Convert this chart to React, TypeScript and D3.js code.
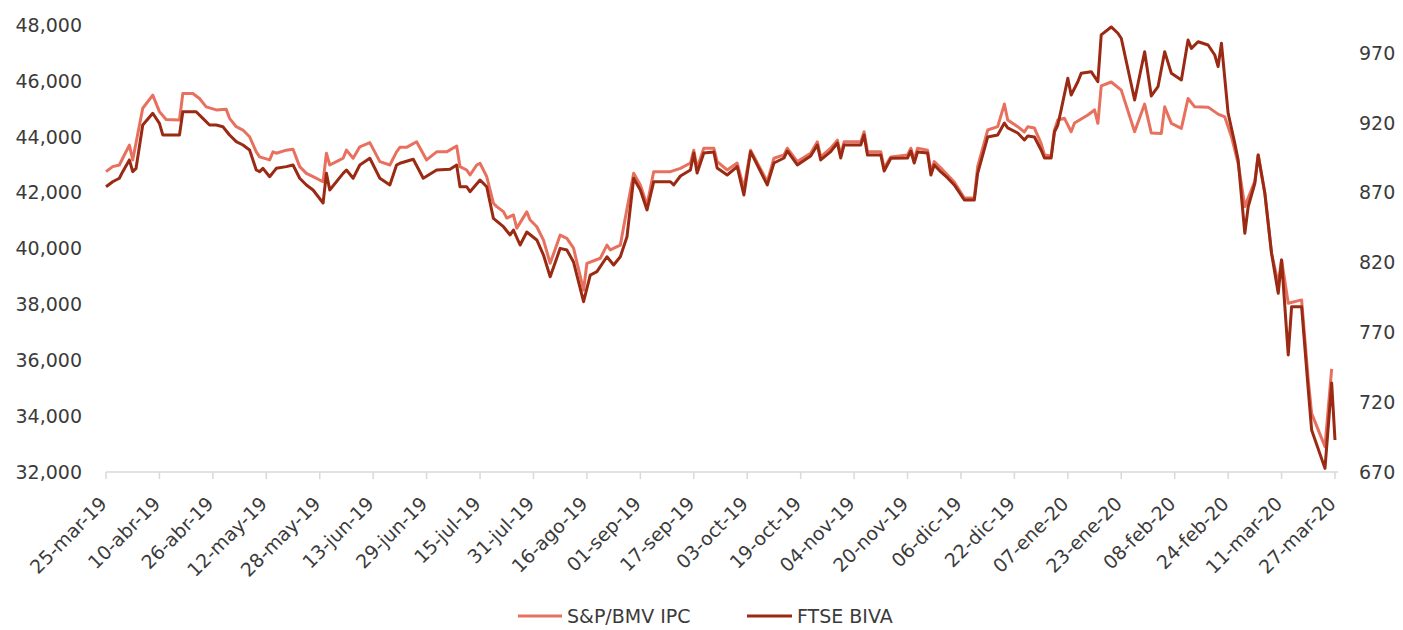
import React from "react";
import * as d3 from "d3";

// fechas: día 0 = 25-mar-19
const startDate = new Date(2019, 2, 25);
const endDate = new Date(2020, 2, 27);

// S&P/BMV IPC (eje izq)
const ipcDays = [0, 2, 4, 5, 7, 8, 11, 14, 16, 18, 22, 23, 26, 28, 30, 33, 36, 37, 39, 41, 43, 45, 46, 49, 50, 51, 54, 56, 58, 60, 62, 65, 66, 67, 69, 71, 72, 74, 76, 79, 82, 85, 87, 88, 90, 93, 96, 99, 102, 105, 106, 108, 109, 111, 112, 114, 116, 117, 119, 120, 122, 123, 126, 127, 129, 131, 133, 136, 138, 140, 143, 144, 148, 150, 151, 154, 155, 158, 160, 162, 164, 169, 172, 175, 176, 177, 179, 182, 183, 186, 189, 191, 193, 198, 200, 203, 204, 207, 211, 213, 214, 217, 219, 220, 221, 226, 227, 228, 232, 233, 235, 240, 241, 242, 243, 246, 247, 248, 250, 252, 254, 257, 260, 261, 264, 267, 269, 270, 273, 275, 276, 278, 280, 281, 283, 284, 285, 287, 289, 290, 294, 296, 297, 298, 301, 304, 308, 311, 313, 316, 317, 319, 322, 324, 326, 330, 333, 335, 337, 339, 341, 344, 345, 347, 349, 351, 352, 354, 358, 360, 361, 365, 367];
const ipcValues = [42750, 42930, 42990, 43230, 43700, 43170, 45020, 45490, 44900, 44620, 44600, 45550, 45550, 45370, 45070, 44960, 44980, 44660, 44360, 44240, 44000, 43460, 43280, 43170, 43460, 43410, 43520, 43550, 42930, 42690, 42570, 42390, 43410, 42990, 43110, 43230, 43520, 43230, 43640, 43790, 43110, 42990, 43460, 43620, 43620, 43820, 43170, 43460, 43460, 43670, 42930, 42810, 42630, 42990, 43050, 42570, 41620, 41500, 41320, 41090, 41200, 40730, 41310, 41020, 40780, 40300, 39470, 40480, 40360, 40010, 38510, 39470, 39650, 40120, 39950, 40120, 40780, 42690, 42270, 41560, 42750, 42750, 42870, 43060, 43520, 42880, 43590, 43590, 43110, 42810, 43060, 42150, 43520, 42390, 43230, 43350, 43590, 43110, 43410, 43820, 43280, 43590, 43880, 43350, 43820, 43820, 44180, 43460, 43460, 42880, 43280, 43350, 43590, 43170, 43590, 43520, 42750, 43110, 42880, 42630, 42380, 41810, 41810, 42930, 44240, 44360, 45170, 44600, 44360, 44170, 44360, 44310, 43760, 43350, 43310, 44240, 44600, 44660, 44180, 44490, 44780, 44960, 44480, 45820, 45960, 45670, 44180, 45170, 44130, 44120, 45070, 44480, 44300, 45370, 45070, 45060, 44810, 44710, 44000, 43050, 41500, 42410, 43350, 41970, 39830, 38750, 39590, 38040, 38160, 35290, 34100, 32910, 35690];

// FTSE BIVA (eje der)
const bivaDays = [0, 2, 4, 5, 7, 8, 9, 11, 14, 16, 17, 22, 23, 27, 29, 31, 33, 35, 37, 39, 41, 43, 45, 46, 47, 49, 51, 54, 56, 58, 60, 62, 65, 66, 67, 71, 72, 74, 76, 79, 82, 85, 87, 88, 92, 95, 99, 103, 105, 106, 108, 109, 112, 114, 116, 119, 121, 122, 124, 126, 129, 131, 133, 136, 138, 140, 143, 145, 147, 150, 152, 154, 156, 158, 160, 162, 164, 169, 170, 172, 175, 176, 177, 179, 182, 183, 186, 189, 191, 193, 198, 200, 203, 204, 207, 211, 213, 214, 217, 219, 220, 221, 226, 227, 228, 232, 233, 235, 240, 241, 242, 243, 246, 247, 248, 250, 252, 254, 257, 260, 261, 264, 267, 269, 270, 273, 275, 276, 278, 280, 281, 283, 284, 285, 286, 288, 289, 291, 292, 295, 297, 298, 301, 303, 304, 308, 311, 313, 315, 317, 319, 322, 324, 325, 327, 330, 332, 333, 334, 336, 338, 339, 341, 342, 344, 345, 347, 349, 351, 352, 354, 355, 358, 360, 361, 365, 367, 368];
const bivaValues = [874.2, 877.8, 880.3, 885.0, 893.4, 885.0, 887.4, 918.4, 926.8, 919.6, 911.3, 911.3, 927.9, 927.9, 923.2, 918.4, 918.4, 917.2, 911.3, 906.5, 904.1, 900.5, 886.2, 885.0, 887.4, 881.4, 887.4, 888.6, 889.8, 880.3, 875.5, 871.9, 862.6, 883.8, 871.9, 883.8, 886.2, 880.3, 889.8, 894.6, 880.3, 875.5, 889.8, 891.0, 893.9, 880.3, 886.2, 886.7, 889.8, 874.2, 874.2, 870.7, 879.0, 874.2, 851.6, 845.6, 839.7, 843.2, 832.5, 841.8, 836.1, 825.3, 809.8, 830.1, 828.9, 820.3, 791.9, 811.0, 813.4, 824.1, 818.2, 824.1, 838.4, 880.3, 871.9, 857.6, 877.8, 877.8, 875.5, 881.9, 886.2, 898.4, 884.1, 898.4, 899.1, 887.6, 882.6, 888.6, 868.3, 899.3, 875.5, 891.2, 894.8, 899.8, 889.8, 896.2, 904.1, 893.4, 899.4, 905.5, 894.8, 904.1, 904.1, 911.3, 896.9, 896.9, 885.5, 894.6, 894.8, 899.8, 891.2, 899.1, 898.4, 882.6, 889.8, 884.8, 880.5, 875.5, 864.7, 864.7, 883.8, 909.8, 911.3, 919.8, 916.3, 912.7, 907.7, 910.5, 909.8, 900.5, 894.8, 894.8, 913.4, 918.4, 929.2, 951.9, 939.9, 949.4, 955.4, 956.6, 949.4, 982.9, 988.6, 984.1, 980.5, 936.3, 970.9, 939.2, 945.8, 970.9, 955.4, 950.6, 979.3, 973.3, 978.0, 975.7, 968.5, 960.2, 976.9, 926.8, 905.3, 893.4, 840.9, 859.9, 876.7, 896.9, 869.5, 826.6, 797.9, 821.8, 753.8, 788.3, 788.3, 728.7, 700.1, 672.6, 733.7, 692.9];

const leftTicks = [32000, 34000, 36000, 38000, 40000, 42000, 44000, 46000, 48000];
const rightTicks = [670, 720, 770, 820, 870, 920, 970];
const xTickDays = d3.range(0, 369, 16);

const seriesNames = ["S&P/BMV IPC", "FTSE BIVA"];
const colors = ["#e8705e", "#9a2a13"];

const esLocale = d3.timeFormatLocale({
    dateTime: "%x %X", date: "%d/%m/%Y", time: "%H:%M:%S", periods: ["AM", "PM"],
    days: ["domingo", "lunes", "martes", "miércoles", "jueves", "viernes", "sábado"],
    shortDays: ["dom", "lun", "mar", "mié", "jue", "vie", "sáb"],
    months: ["enero", "febrero", "marzo", "abril", "mayo", "junio", "julio", "agosto", "septiembre", "octubre", "noviembre", "diciembre"],
    shortMonths: ["ene", "feb", "mar", "abr", "may", "jun", "jul", "ago", "sep", "oct", "nov", "dic"]
});
const fmtDate = esLocale.format("%d-%b-%y");
const fmtNum = d3.format(",");

class App extends React.Component {
    constructor(props) {
        super(props);
        this.width = 1403;
        this.height = 630;
        this.left = 106;
        this.right = 1335;
        this.top = 25;
        this.bottom = 472;
        this.x = d3.scaleTime().domain([startDate, endDate]).range([this.left, this.right]);
        this.yL = d3.scaleLinear().domain([32000, 48000]).range([this.bottom, this.top]);
        this.yR = d3.scaleLinear().domain([670, 990]).range([this.bottom, this.top]);
    }

    day(d) {
        return d3.timeDay.offset(startDate, d);
    }

    render() {
        const ipcLine = d3.line()
            .x((d) => this.x(this.day(d[0])))
            .y((d) => this.yL(d[1]));
        const bivaLine = d3.line()
            .x((d) => this.x(this.day(d[0])))
            .y((d) => this.yR(d[1]));
        const ipcPts = ipcDays.map((d, i) => [d, ipcValues[i]]);
        const bivaPts = bivaDays.map((d, i) => [d, bivaValues[i]]);
        const textCol = "#3b3b3b";
        const font = "DejaVu Sans";
        const legY = 616;
        return (
            <svg width={this.width} height={this.height}
                style={{position: "absolute", left: 0, top: 0, background: "#fff"}}
                fontFamily={font}>
                {leftTicks.map((t) =>
                    <text key={"l" + t} x={82} y={this.yL(t)} dy="0.36em"
                        textAnchor="end" fontSize={19} fill={textCol}>
                        {fmtNum(t)}
                    </text>
                )}
                {rightTicks.map((t) =>
                    <text key={"r" + t} x={1359} y={this.yR(t)} dy="0.36em"
                        textAnchor="start" fontSize={19} fill={textCol}>
                        {t}
                    </text>
                )}
                <line x1={this.left} x2={this.right + 3} y1={this.bottom} y2={this.bottom}
                    stroke="#d9d9d9" strokeWidth={1.5} />
                {xTickDays.map((d) => {
                    const xx = this.x(this.day(d));
                    return (
                        <g key={"x" + d}>
                            <line x1={xx} x2={xx} y1={this.bottom} y2={this.bottom + 7}
                                stroke="#d9d9d9" strokeWidth={1.5} />
                            <text transform={"translate(" + (xx + 2) + "," + (this.bottom + 33) + ") rotate(-45)"}
                                textAnchor="end" fontSize={19} fill={textCol}>
                                {fmtDate(this.day(d))}
                            </text>
                        </g>
                    );
                })}
                <path d={ipcLine(ipcPts)} fill="none" stroke={colors[0]}
                    strokeWidth={3} strokeLinejoin="round" />
                <path d={bivaLine(bivaPts)} fill="none" stroke={colors[1]}
                    strokeWidth={3} strokeLinejoin="round" />
                {/* leyenda */}
                <line x1={518} x2={562} y1={legY} y2={legY} stroke={colors[0]} strokeWidth={3} />
                <text x={567} y={legY} dy="0.36em" fontSize={19} fill={textCol}>{seriesNames[0]}</text>
                <line x1={747} x2={792} y1={legY} y2={legY} stroke={colors[1]} strokeWidth={3} />
                <text x={797} y={legY} dy="0.36em" fontSize={19} fill={textCol}>{seriesNames[1]}</text>
            </svg>
        );
    }
}

export default App;
